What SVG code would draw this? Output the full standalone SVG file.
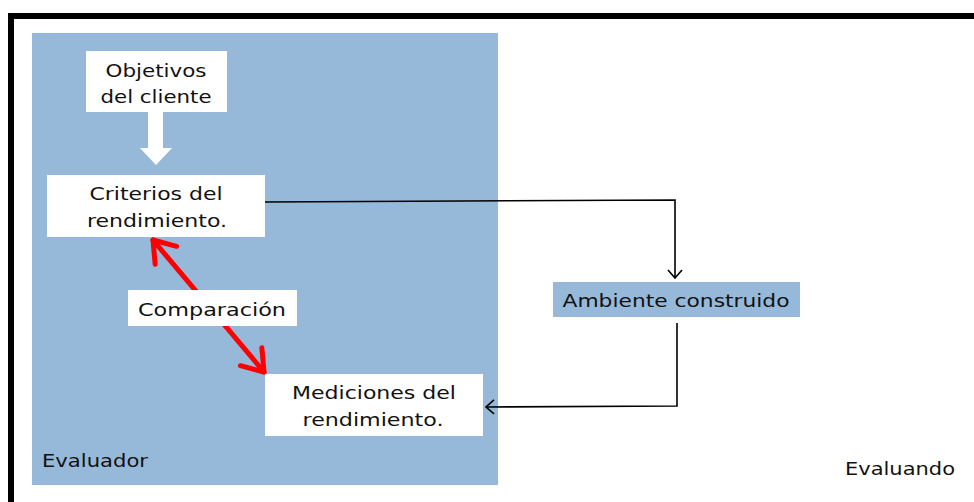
<svg xmlns="http://www.w3.org/2000/svg" width="974" height="502" viewBox="0 0 974 502">
<defs>
<style>
text{font-family:"DejaVu Sans","Liberation Sans",sans-serif;font-size:17px;fill:#111;text-anchor:middle;}
.box{fill:#fff;}
.blue{fill:#96B9DA;}
.conn{fill:none;stroke:#000;stroke-width:1.6;}
.red{fill:none;stroke:#F00;stroke-width:5;stroke-linecap:round;}
</style>
<marker id="ah" markerUnits="userSpaceOnUse" viewBox="-12 -10 14 20" markerWidth="14" markerHeight="20" refX="0" refY="0" orient="auto" overflow="visible">
<path d="M-8,-7 L0,0 L-8,7" fill="none" stroke="#000" stroke-width="1.6"/>
</marker>
<marker id="rh" markerUnits="userSpaceOnUse" viewBox="-25 -18 30 36" markerWidth="30" markerHeight="36" refX="0" refY="0" orient="auto-start-reverse" overflow="visible">
<path d="M-20,-14 L0,0 L-20,14" fill="none" stroke="#F00" stroke-width="5" stroke-linecap="round" stroke-linejoin="round"/>
</marker>
</defs>
<rect x="0" y="0" width="974" height="502" fill="#fff"/>
<rect x="11" y="16" width="1000" height="600" fill="none" stroke="#000" stroke-width="6"/>
<g id="evaluador">
<rect class="blue" x="32" y="33" width="466" height="452"/>
<text x="42" y="467" style="text-anchor:start" textLength="106" lengthAdjust="spacingAndGlyphs">Evaluador</text>
</g>
<g id="evaluando">
<text x="845" y="475" style="text-anchor:start" textLength="110" lengthAdjust="spacingAndGlyphs">Evaluando</text>
</g>
<g id="connectors">
<polygon points="148,112 163,112 163,148 172,148 156,165 140,148 148,148" fill="#fff"/>
<path class="conn" d="M265,202 L675,200 L675,278" marker-end="url(#ah)"/>
<path class="conn" d="M677,323 L677,406 L486,407" marker-end="url(#ah)"/>
<path class="red" d="M153,240 L264,372" marker-start="url(#rh)" marker-end="url(#rh)"/>
</g>
<g id="objetivos">
<rect class="box" x="86" y="51" width="141" height="61"/>
<text x="156" y="77" textLength="101" lengthAdjust="spacingAndGlyphs">Objetivos</text>
<text x="156" y="103" textLength="111" lengthAdjust="spacingAndGlyphs">del cliente</text>
</g>
<g id="criterios">
<rect class="box" x="47" y="175" width="218" height="62"/>
<text x="156" y="200" textLength="133" lengthAdjust="spacingAndGlyphs">Criterios del</text>
<text x="157" y="227" textLength="140" lengthAdjust="spacingAndGlyphs">rendimiento.</text>
</g>
<g id="comparacion">
<rect class="box" x="128" y="290" width="169" height="36"/>
<text x="212" y="316" textLength="148" lengthAdjust="spacingAndGlyphs">Comparación</text>
</g>
<g id="mediciones">
<rect class="box" x="265" y="374" width="218" height="62"/>
<text x="374" y="399" textLength="164" lengthAdjust="spacingAndGlyphs">Mediciones del</text>
<text x="373" y="426" textLength="141" lengthAdjust="spacingAndGlyphs">rendimiento.</text>
</g>
<g id="ambiente">
<rect class="blue" x="553" y="282" width="247" height="35"/>
<text x="676" y="307" textLength="227" lengthAdjust="spacingAndGlyphs">Ambiente construido</text>
</g>
</svg>
